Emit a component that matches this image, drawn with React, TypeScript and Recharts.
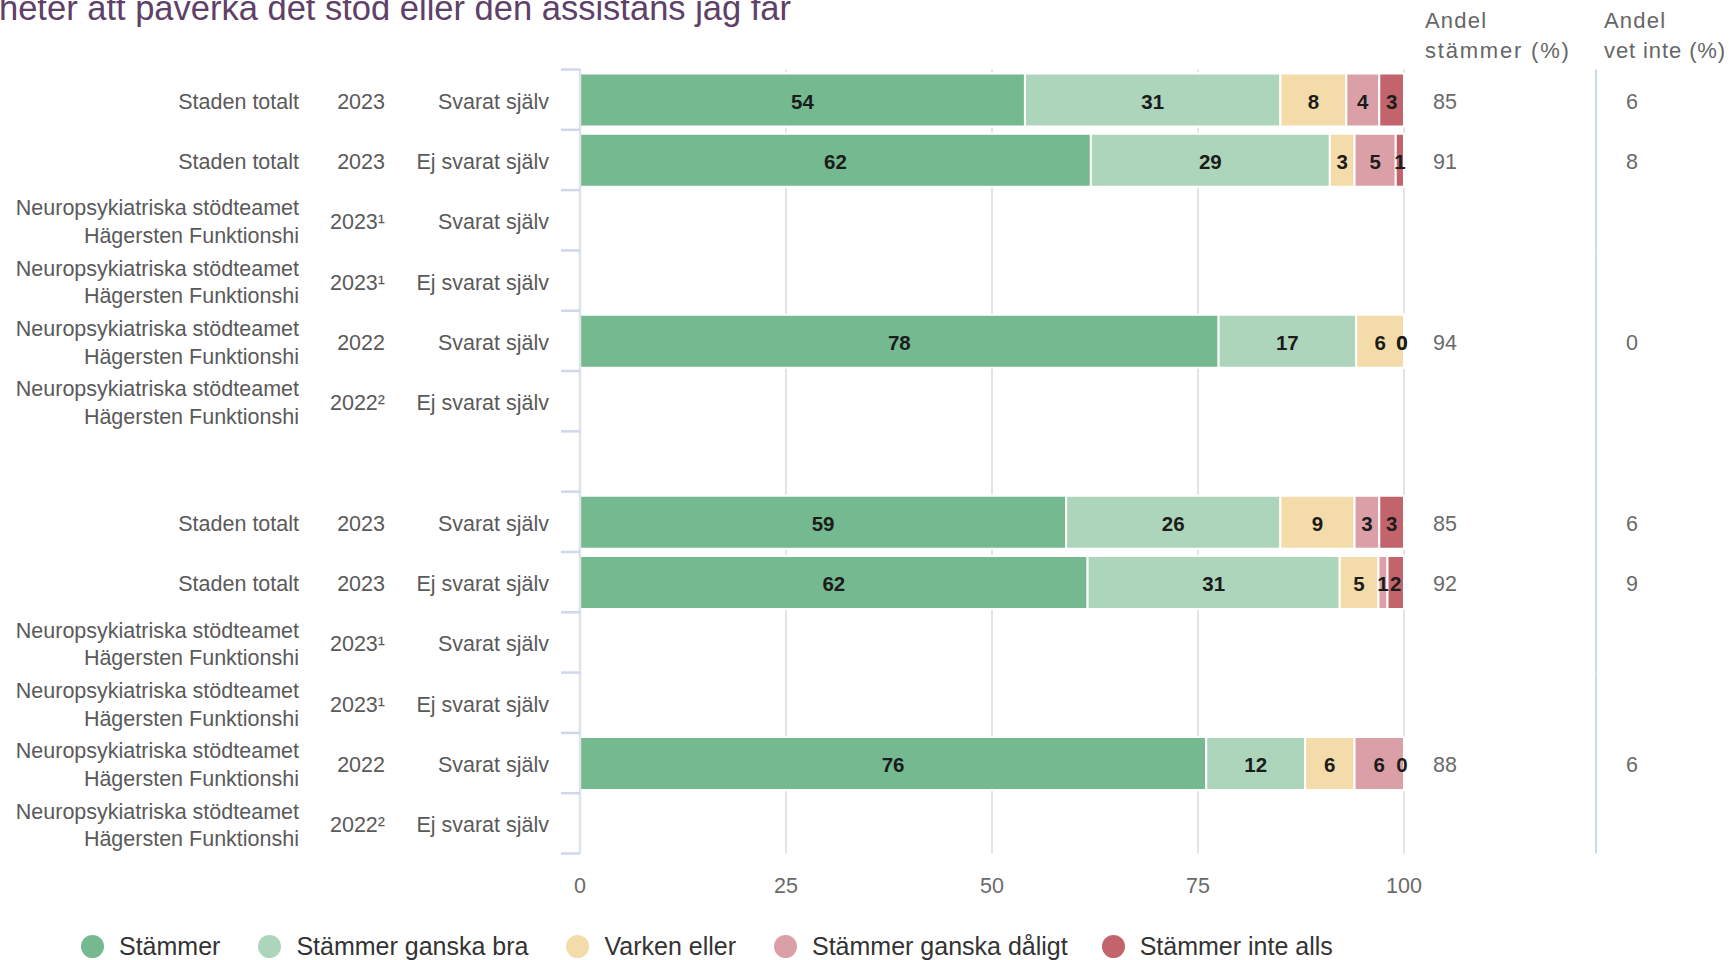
import { BarChart, Bar, XAxis, YAxis, CartesianGrid, LabelList } from 'recharts';

const FONT = '"Liberation Sans", Arial, sans-serif';

// rader (tom rad mellan de två grupperna)
const NP = 'Neuropsykiatriska stödteamet|Hägersten Funktionshi';
const units = ['Staden totalt', 'Staden totalt', NP, NP, NP, NP, '', 'Staden totalt', 'Staden totalt', NP, NP, NP, NP];
const years = ['2023', '2023', '2023¹', '2023¹', '2022', '2022²', '', '2023', '2023', '2023¹', '2023¹', '2022', '2022²'];
const respondents = [
  'Svarat själv', 'Ej svarat själv', 'Svarat själv', 'Ej svarat själv', 'Svarat själv', 'Ej svarat själv', '',
  'Svarat själv', 'Ej svarat själv', 'Svarat själv', 'Ej svarat själv', 'Svarat själv', 'Ej svarat själv',
];

const stammer = [54, 62, null, null, 77.5, null, null, 59, 61.6, null, null, 76, null];
const ganskaBra = [31, 29, null, null, 16.7, null, null, 26, 30.6, null, null, 12, null];
const varkenEller = [8, 3, null, null, 5.8, null, null, 9, 4.7, null, null, 6, null];
const ganskaDaligt = [4, 5, null, null, 0, null, null, 3, 1.1, null, null, 6, null];
const inteAlls = [3, 1, null, null, 0, null, null, 3, 2, null, null, 0, null];

const andelStammer = ['85', '91', '', '', '94', '', '', '85', '92', '', '', '88', ''];
const andelVetInte = ['6', '8', '', '', '0', '', '', '6', '9', '', '', '6', ''];

const xTicks = [0, 25, 50, 75, 100];

const series = [
  { key: 'stammer', name: 'Stämmer', color: '#75b990', values: stammer },
  { key: 'ganskaBra', name: 'Stämmer ganska bra', color: '#add5bb', values: ganskaBra },
  { key: 'varkenEller', name: 'Varken eller', color: '#f3dca9', values: varkenEller },
  { key: 'ganskaDaligt', name: 'Stämmer ganska dåligt', color: '#dba0a7', values: ganskaDaligt },
  { key: 'inteAlls', name: 'Stämmer inte alls', color: '#c3636b', values: inteAlls },
];

// a zero share still gets its "0" label, so give it a hair-thin width
const drawable = (v: number | null) => (v === 0 ? 0.001 : v);

const data = units.map((_, i) => {
  const row: Record<string, any> = { row: `r${i}` };
  series.forEach((s) => {
    row[s.key] = drawable(s.values[i]);
  });
  return row;
});

const W = 1729;
const H = 960;
const TOP = 69.5;
const BOTTOM = 853.5;
const LEFT = 580;
const RIGHT = 1404;
const BAND = (BOTTOM - TOP) / units.length;
const TXT = 2; // text sits a little below the band centre

const labelColor = '#5a5a5a';

function RowTick(props: any) {
  const { y, index } = props;
  const lines = units[index] ? units[index].split('|') : [];
  const top = y - BAND / 2;
  const ty = y + TXT;
  return (
    <g fontFamily={FONT} fontSize={21.5} fill={labelColor}>
      <line x1={561} x2={LEFT} y1={top} y2={top} stroke="#cdd8ec" strokeWidth={2.5} />
      {index === units.length - 1 && (
        <line x1={561} x2={LEFT} y1={y + BAND / 2} y2={y + BAND / 2} stroke="#cdd8ec" strokeWidth={2.5} />
      )}
      <line x1={1596} x2={1596} y1={top} y2={y + BAND / 2} stroke="#cbd9f0" strokeWidth={2} />
      {lines.length === 1 && (
        <text x={299} y={ty} textAnchor="end" dominantBaseline="central">{lines[0]}</text>
      )}
      {lines.length === 2 && (
        <text textAnchor="end" dominantBaseline="central">
          <tspan x={299} y={ty - 13.8}>{lines[0]}</tspan>
          <tspan x={299} y={ty + 13.8}>{lines[1]}</tspan>
        </text>
      )}
      <text x={385} y={ty} textAnchor="end" dominantBaseline="central">{years[index]}</text>
      <text x={549} y={ty} textAnchor="end" dominantBaseline="central">{respondents[index]}</text>
      <text x={1433} y={ty} dominantBaseline="central" fill="#6a6a6a">{andelStammer[index]}</text>
      <text x={1626} y={ty} dominantBaseline="central" fill="#6a6a6a">{andelVetInte[index]}</text>
    </g>
  );
}

function ValueTick(props: any) {
  const { x, payload } = props;
  return (
    <text x={x} y={886} textAnchor="middle" dominantBaseline="central" fontFamily={FONT} fontSize={21.5} fill="#6a6a6a">
      {payload.value}
    </text>
  );
}

function SegmentLabel(props: any) {
  const { x, y, width, height, value } = props;
  if (value === null || value === undefined) return null;
  const rounded = Math.round(value);
  return (
    <text
      x={x + width / 2 - (rounded === 0 ? 2 : 0)}
      y={y + height / 2 + 1}
      textAnchor="middle"
      dominantBaseline="central"
      fontFamily={FONT}
      fontSize={20.5}
      fontWeight={700}
      fill="#1c1c1c"
    >
      {rounded}
    </text>
  );
}

export default function App() {
  return (
    <div style={{ position: 'absolute', left: 0, top: 0, width: W, height: H, overflow: 'hidden', background: '#fff', fontFamily: FONT }}>
      <BarChart
        width={W}
        height={H}
        data={data}
        layout="vertical"
        barSize={53}
        margin={{ top: TOP, right: W - RIGHT, bottom: 0, left: 0 }}
      >
        <CartesianGrid horizontal={false} stroke="#e4e4e4" strokeWidth={2} />
        <XAxis
          type="number"
          domain={[0, 100]}
          ticks={xTicks}
          height={H - BOTTOM}
          axisLine={false}
          tickLine={false}
          tick={<ValueTick />}
        />
        <YAxis
          type="category"
          dataKey="row"
          width={LEFT}
          axisLine={{ stroke: '#e0e2e6', strokeWidth: 2.5 }}
          tickLine={false}
          tick={<RowTick />}
          interval={0}
        />
        {series.map((s) => (
          <Bar
            key={s.key}
            dataKey={s.key}
            name={s.name}
            stackId="a"
            fill={s.color}
            stroke="#ffffff"
            strokeWidth={2}
            isAnimationActive={false}
          >
            <LabelList dataKey={s.key} content={<SegmentLabel />} />
          </Bar>
        ))}
      </BarChart>

      <svg width={W} height={H} style={{ position: 'absolute', left: 0, top: 0, pointerEvents: 'none' }}>
        <text x={-1} y={20} fontFamily={FONT} fontSize={34.5} fill="#5e4068">
          heter att påverka det stöd eller den assistans jag får
        </text>
        <g fontFamily={FONT} fontSize={22} fill="#666">
          <text x={1425} y={20} dominantBaseline="central" letterSpacing={1.2}>Andel</text>
          <text x={1425} y={50} dominantBaseline="central" letterSpacing={1.8}>stämmer (%)</text>
          <text x={1604} y={20} dominantBaseline="central" letterSpacing={1.2}>Andel</text>
          <text x={1604} y={50} dominantBaseline="central" letterSpacing={0.9}>vet inte (%)</text>
        </g>
      </svg>

      <div
        style={{
          position: 'absolute',
          left: 81,
          top: 946 - 16,
          height: 32,
          display: 'flex',
          alignItems: 'center',
          fontSize: 25,
          color: '#333',
          whiteSpace: 'nowrap',
        }}
      >
        {series.map((s, i) => (
          <div key={s.key} style={{ display: 'flex', alignItems: 'center', marginRight: i === 3 ? 34 : 38 }}>
            <span style={{ width: 23, height: 23, borderRadius: '50%', background: s.color, display: 'inline-block', marginRight: 15 }} />
            <span>{s.name}</span>
          </div>
        ))}
      </div>
    </div>
  );
}
